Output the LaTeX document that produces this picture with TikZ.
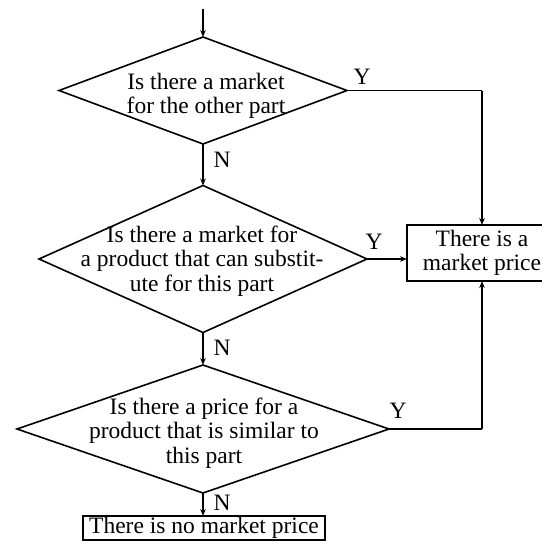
\documentclass[tikz,border=0pt]{standalone}
\usepackage{fontspec}
\setmainfont{Liberation Serif}
\usetikzlibrary{shapes.geometric,arrows.meta}
\tikzset{
  decision/.style={diamond, draw, line width=1.6pt, inner sep=0pt, outer sep=0pt},
  qtext/.style={align=center, inner sep=0pt, font=\fontsize{23.5}{24.5}\selectfont},
  outbox/.style={draw, line width=1.6pt, align=center, inner sep=0pt, outer sep=0pt, font=\fontsize{23.5}{24.5}\selectfont},
  lbl/.style={inner sep=0pt, font=\fontsize{23.5}{24}\selectfont},
  conn/.style={line width=1.6pt},
  arr/.style={line width=1.6pt, -{Stealth[length=7pt,width=5.5pt]}}
}
\begin{document}
\begin{tikzpicture}[x=1pt,y=-1pt]
\useasboundingbox (0,0) rectangle (541,549);
% decisions
\node[decision, minimum width=288pt, minimum height=107pt] (d1) at (203,90.5) {};
\node[decision, minimum width=328pt, minimum height=147pt] (d2) at (203,259) {};
\node[decision, minimum width=372pt, minimum height=128pt] (d3) at (203,429) {};
\node[qtext] (t1) at (206,96) {Is there a market\\for the other part};
\node[qtext] (t2) at (202,261) {Is there a market for\\a product that can substit-\\ute for this part};
\node[qtext] (t3) at (204,433) {Is there a price for a\\product that is similar to\\this part};
% results
\node[outbox, minimum width=150pt, minimum height=56pt] (mp) at (482,253) {There is a\\market price};
\node[outbox, minimum width=242pt, minimum height=24pt, text height=16pt, text depth=5pt] (nmp) at (204,528) {There is no market price};
% entry
\coordinate (start) at (203,9);
\draw[arr] (start) -- (d1.north);
% N branches
\draw[arr] (d1.south) -- (d2.north);
\draw[arr] (d2.south) -- (d3.north);
\draw[arr] (d3.south) -- (d3.south |- nmp.north);
% Y branches
\draw[conn] (d1.east) -- (d1.east -| mp.north);
\draw[arr] (d1.east -| mp.north) -- (mp.north);
\draw[arr] (d2.east) -- (d2.east -| mp.west);
\draw[conn] (d3.east) -- (d3.east -| mp.south);
\draw[arr] (d3.east -| mp.south) -- (mp.south);
% labels
\node[lbl] (y1) at (362,77) {Y};
\node[lbl] (y2) at (374,242) {Y};
\node[lbl] (y3) at (398,411) {Y};
\node[lbl] (n1) at (222,160) {N};
\node[lbl] (n2) at (222,348) {N};
\node[lbl] (n3) at (222,503) {N};
\end{tikzpicture}
\end{document}
